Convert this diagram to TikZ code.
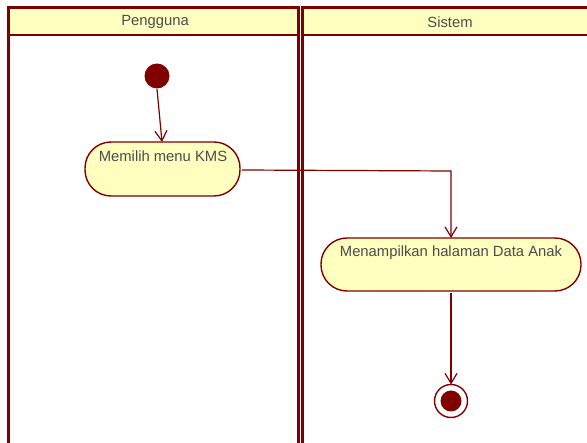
\documentclass[tikz,border=0pt]{standalone}
\usepackage{fontspec}
\setmainfont{Liberation Sans}
\usetikzlibrary{arrows.meta}
\definecolor{umlred}{RGB}{128,0,0}
\definecolor{umlfill}{RGB}{255,255,192}
\definecolor{umltext}{RGB}{75,75,75}
\begin{document}
\begin{tikzpicture}[x=1pt,y=-1pt,
  lane/.style={draw=umlred,line width=3pt},
  headsep/.style={draw=umlred,line width=2pt},
  action/.style={draw=umlred,fill=umlfill,line width=1.4pt,rounded corners=26pt},
  label/.style={text=umltext,font=\fontsize{14.8}{17}\selectfont},
  flow/.style={draw=umlred,line width=1.2pt,-{Straight Barb[length=10pt,width=12pt,line width=1.2pt]}}]
\useasboundingbox (0,0) rectangle (587,443);
% swimlane headers
\fill[umlfill] (8,8) rectangle (298,35);
\fill[umlfill] (302.5,8) rectangle (600,35);
\draw[headsep] (8,35) -- (298,35);
\draw[headsep] (302.5,35) -- (600,35);
\draw[lane] (8,460) -- (8,8) -- (298,8) -- (298,460);
\draw[lane] (302.5,460) -- (302.5,8) -- (600,8);
\node[label] (hdrA) at (155,22) {Pengguna};
\node[label] (hdrB) at (450,22) {Sistem};
% initial node
\fill[umlred] (157,76) circle (12.5pt);
\coordinate (init) at (157,89);
% actions
\path[action] (85,142) rectangle (240,196);
\node[label,anchor=north] (aktA) at (163,147) {Memilih menu KMS};
\coordinate (aktAtop) at (162,142);
\coordinate (aktAright) at (242,170);
\path[action] (321,238) rectangle (581,291);
\node[label,anchor=north] (aktB) at (451,242) {Menampilkan halaman Data Anak};
\coordinate (aktBtop) at (451,238);
\coordinate (aktBbot) at (451,293);
% final node
\draw[umlred,line width=1.4pt] (451,401) circle (16.5pt);
\fill[umlred] (451,401) circle (10.5pt);
\coordinate (final) at (451,384.5);
% transitions
\draw[flow] (init) -- (aktAtop);
\draw[flow] (aktAright) -- (451,171) -- (aktBtop);
\draw[flow] (aktBbot) -- (final);
\end{tikzpicture}
\end{document}
